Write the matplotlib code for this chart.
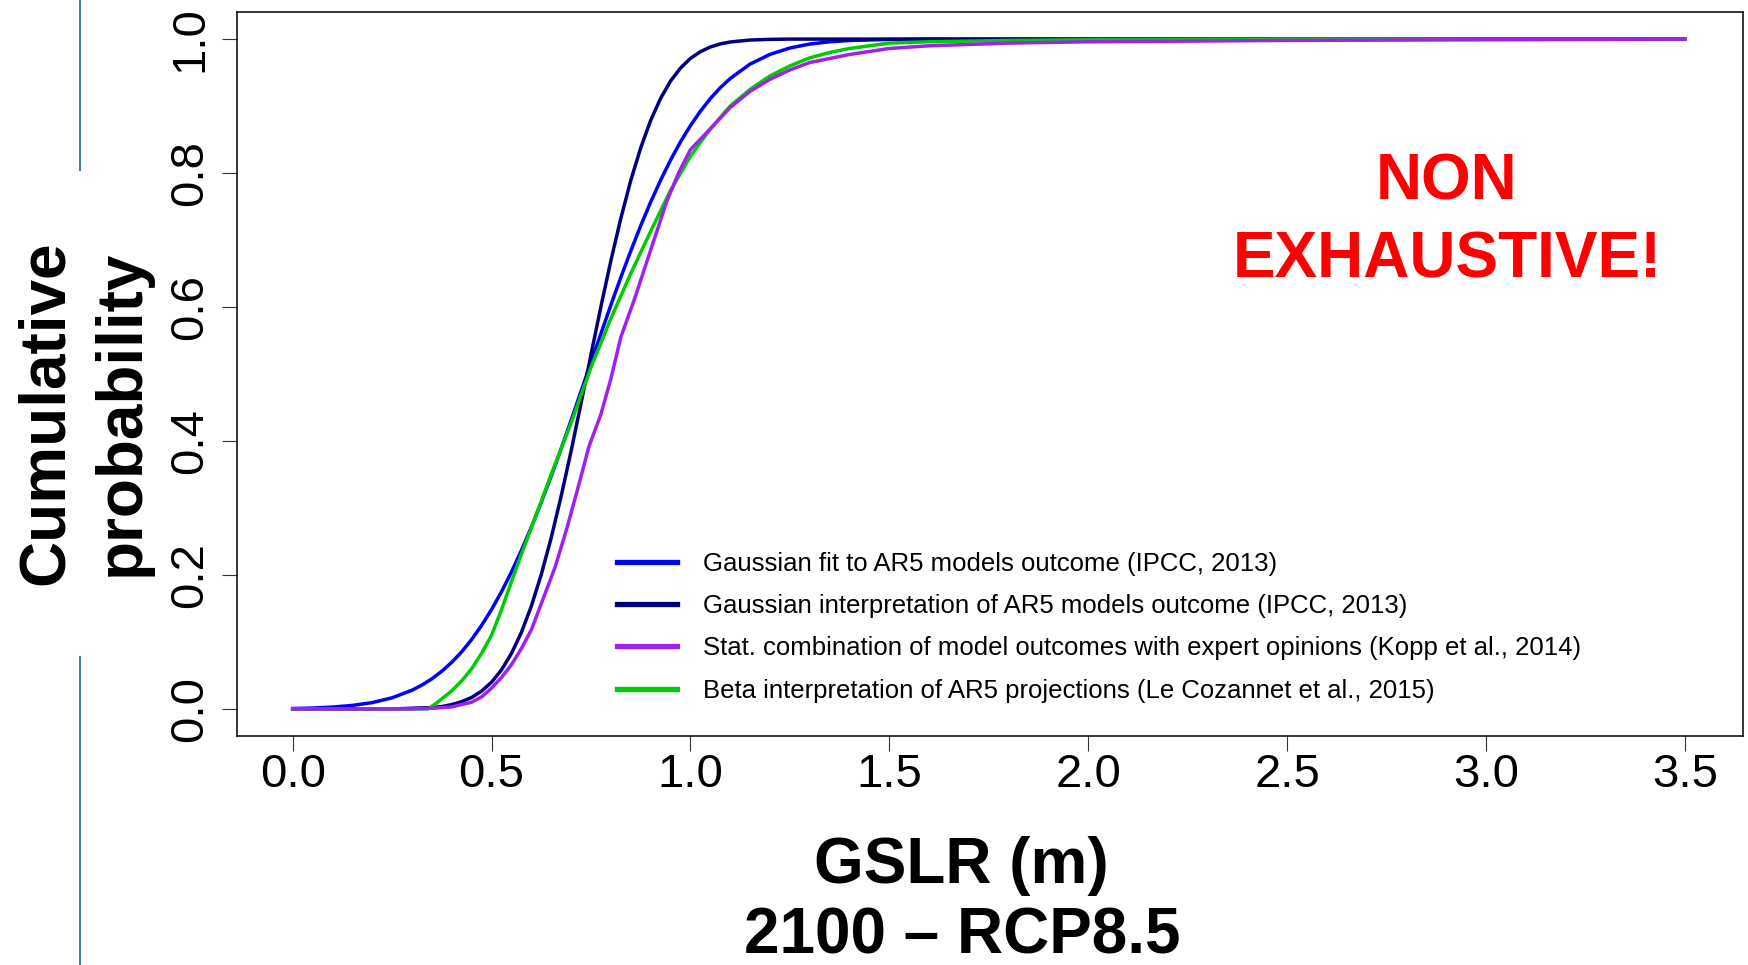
import matplotlib
matplotlib.use("Agg")
import matplotlib.pyplot as plt
from matplotlib import font_manager
from matplotlib.lines import Line2D

# fonts: Arial-like, and a narrow one for the rotated texts if there is one
names = {f.name for f in font_manager.fontManager.ttflist}
sans = "Liberation Sans" if "Liberation Sans" in names else "DejaVu Sans"
narrow = "Liberation Sans Narrow" if "Liberation Sans Narrow" in names else sans
plt.rcParams["font.family"] = [sans, "DejaVu Sans"]

# ---- data ----
x_fit = [0.0, 0.05, 0.1, 0.15, 0.2, 0.25, 0.3, 0.325, 0.35, 0.375, 0.4, 0.425, 0.45,
         0.475, 0.5, 0.525, 0.55, 0.575, 0.6, 0.625, 0.65, 0.675, 0.7, 0.725, 0.75,
         0.775, 0.8, 0.825, 0.85, 0.875, 0.9, 0.925, 0.95, 0.975, 1.0, 1.025, 1.05,
         1.075, 1.1, 1.15, 1.2, 1.25, 1.3, 1.35, 1.4, 1.5, 1.6, 1.8, 2.5, 3.5]
gauss_fit = [0.0006, 0.0013, 0.0027, 0.0052, 0.0094, 0.0166, 0.0279, 0.0356, 0.045,
             0.0563, 0.0697, 0.0853, 0.1037, 0.1247, 0.1484, 0.1749, 0.2044, 0.2367,
             0.2713, 0.3085, 0.3478, 0.3886, 0.4309, 0.4741, 0.5173, 0.5604, 0.603,
             0.6443, 0.6837, 0.7214, 0.7567, 0.7893, 0.8194, 0.8466, 0.8708, 0.8923,
             0.9112, 0.9274, 0.9412, 0.9627, 0.9772, 0.9867, 0.9926, 0.996, 0.9979,
             0.9995, 0.9999, 1.0, 1.0, 1.0]

x_interp = [0.0, 0.25, 0.3, 0.35, 0.375, 0.4, 0.425, 0.45, 0.475, 0.5, 0.525, 0.55,
            0.575, 0.6, 0.625, 0.65, 0.675, 0.7, 0.725, 0.75, 0.775, 0.8, 0.825, 0.85,
            0.875, 0.9, 0.925, 0.95, 0.975, 1.0, 1.025, 1.05, 1.075, 1.1, 1.15, 1.2,
            1.25, 1.5, 2.5, 3.5]
gauss_interp = [0.0, 0.0, 0.001, 0.002, 0.0035, 0.0065, 0.0108, 0.0171, 0.0266, 0.0399,
                0.0583, 0.0828, 0.1142, 0.1534, 0.2007, 0.2556, 0.3177, 0.385, 0.4565,
                0.529, 0.6008, 0.6693, 0.7324, 0.789, 0.8377, 0.8786, 0.9115, 0.9374,
                0.9568, 0.9711, 0.9812, 0.9882, 0.9928, 0.9957, 0.9986, 0.9996, 1.0,
                1.0, 1.0, 1.0]

x_beta = [0.0, 0.3, 0.34, 0.36, 0.375, 0.4, 0.425, 0.45, 0.475, 0.5, 0.525, 0.55, 0.575,
          0.6, 0.65, 0.7, 0.75, 0.8, 0.85, 0.9, 0.95, 1.0, 1.05, 1.1, 1.15, 1.2, 1.25,
          1.3, 1.35, 1.4, 1.5, 1.6, 1.8, 2.0, 2.5, 3.0, 3.5]
beta_interp = [0.0, 0.0, 0.0, 0.008, 0.015, 0.027, 0.042, 0.060, 0.083, 0.110, 0.148,
               0.190, 0.231, 0.270, 0.350, 0.427, 0.510, 0.583, 0.650, 0.713, 0.774,
               0.825, 0.866, 0.900, 0.925, 0.945, 0.960, 0.972, 0.980, 0.986, 0.994,
               0.996, 0.998, 0.999, 1.0, 1.0, 1.0]

x_kopp = [0.0, 0.3, 0.35, 0.4, 0.45, 0.475, 0.5, 0.525, 0.55, 0.575, 0.6, 0.63, 0.66,
          0.69, 0.72, 0.745, 0.775, 0.8, 0.825, 0.86, 0.9, 0.94, 0.97, 1.0, 1.05, 1.1,
          1.15, 1.2, 1.25, 1.3, 1.4, 1.5, 1.6, 1.8, 2.0, 2.5, 3.0, 3.5]
kopp = [0.0, 0.0, 0.001, 0.003, 0.010, 0.018, 0.031, 0.047, 0.066, 0.090, 0.118, 0.165,
        0.212, 0.271, 0.336, 0.392, 0.440, 0.493, 0.555, 0.613, 0.685, 0.757, 0.800,
        0.835, 0.866, 0.898, 0.922, 0.940, 0.954, 0.965, 0.977, 0.986, 0.990, 0.994,
        0.996, 0.998, 0.999, 1.0]

labels = ["Gaussian fit to AR5 models outcome (IPCC, 2013)",
          "Gaussian interpretation of AR5 models outcome (IPCC, 2013)",
          "Stat. combination of model outcomes with expert opinions (Kopp et al., 2014)",
          "Beta interpretation of AR5 projections (Le Cozannet et al., 2015)"]
colors = ["#0000FF", "#000080", "#A020F0", "#00CD00"]

x_ticks = [0.0, 0.5, 1.0, 1.5, 2.0, 2.5, 3.0, 3.5]
y_ticks = [0.0, 0.2, 0.4, 0.6, 0.8, 1.0]

W, H = 1748, 965
fig = plt.figure(figsize=(W / 100, H / 100), dpi=100)
ax = fig.add_axes([237 / W, 1 - 735.7 / H, (1742.5 - 237) / W, (735.7 - 12.3) / H])

lw = 2.5
ax.plot(x_fit, gauss_fit, color=colors[0], lw=lw)
ax.plot(x_interp, gauss_interp, color=colors[1], lw=lw)
ax.plot(x_beta, beta_interp, color=colors[3], lw=lw)
ax.plot(x_kopp, kopp, color=colors[2], lw=lw)

ax.set_xlim(-0.14, 3.645)
ax.set_ylim(-0.04, 1.04)

for s in ax.spines.values():
    s.set_linewidth(1.1)
ax.set_xticks(x_ticks)
ax.set_xticklabels(["%.1f" % v for v in x_ticks], fontsize=34)
ax.set_yticks(y_ticks)
ax.set_yticklabels(["%.1f" % v for v in y_ticks], rotation=90, va="center",
                   fontsize=34, family=[narrow, "DejaVu Sans"])
ax.tick_params(axis="x", length=10.8, width=0.8, color="#333333", pad=1.5)
ax.tick_params(axis="y", length=10.8, width=0.8, color="#333333", pad=7)

# legend (no box)
handles = [Line2D([], [], color=c, lw=3.8) for c in colors]
fig.legend(handles, labels, loc="upper left",
           bbox_to_anchor=(617 / W, 1 - 552 / H), bbox_transform=fig.transFigure,
           frameon=False, fontsize=18.5, handlelength=2.35, handletextpad=1.0,
           labelspacing=0.71, borderpad=0, borderaxespad=0)

# NON EXHAUSTIVE!
fig.text(1447 / W, 1 - 200 / H, "NON", color="#FF0000", fontsize=46,
         weight="bold", ha="center", va="baseline")
fig.text(1447 / W, 1 - 277 / H, "EXHAUSTIVE!", color="#FF0000", fontsize=46,
         weight="bold", ha="center", va="baseline")

# axis titles
fig.text(961 / W, 1 - 883 / H, "GSLR (m)", fontsize=46, weight="bold",
         ha="center", va="baseline")
fig.text(962 / W, 1 - 954 / H, "2100 \u2013 RCP8.5", fontsize=46, weight="bold",
         ha="center", va="baseline")
fig.text(63 / W, 1 - 413 / H, "Cumulative", fontsize=46, weight="bold",
         family=[narrow, "DejaVu Sans"], rotation=90, rotation_mode="anchor",
         ha="center", va="baseline")
fig.text(139 / W, 1 - 413 / H, "probability", fontsize=46, weight="bold",
         family=[narrow, "DejaVu Sans"], rotation=90, rotation_mode="anchor",
         ha="center", va="baseline")

# slide decoration line on the left
deco = "#4d7f9f"
fig.add_artist(Line2D([80 / W, 80 / W], [1, 1 - 170 / H], color=deco, lw=1.5,
                      transform=fig.transFigure))
fig.add_artist(Line2D([80 / W, 80 / W], [1 - 657 / H, 0], color=deco, lw=1.5,
                      transform=fig.transFigure))

fig.savefig("out.png", dpi=100)
